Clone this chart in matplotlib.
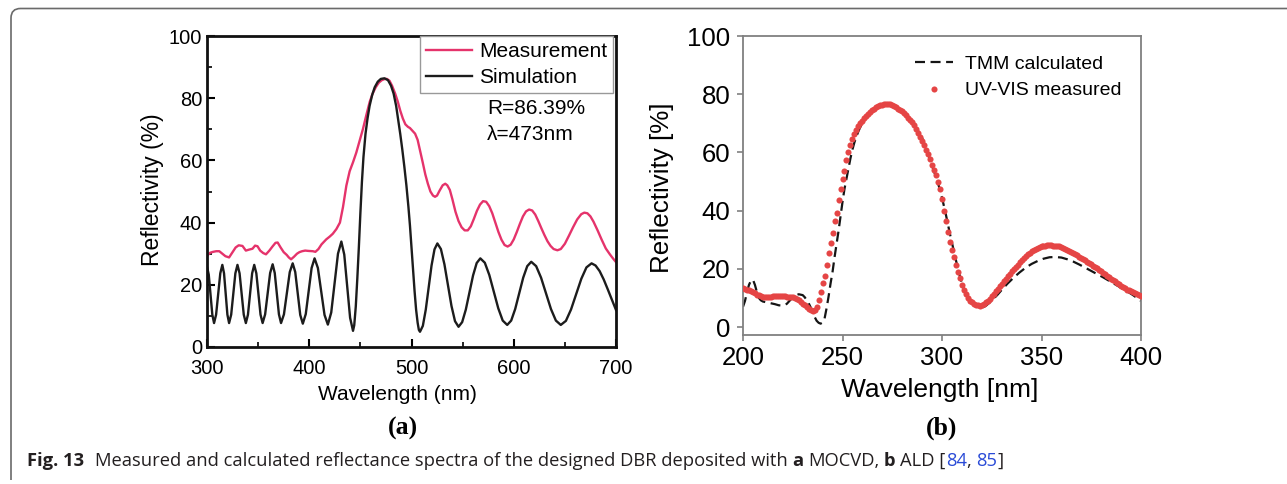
import logging
logging.getLogger('matplotlib.font_manager').setLevel(logging.ERROR)
import numpy as np
import matplotlib
matplotlib.use('Agg')
import matplotlib.pyplot as plt
from matplotlib.path import Path
from matplotlib.patches import PathPatch
from matplotlib.ticker import MultipleLocator

# ---------------- data: panel (a) MOCVD ----------------
a_meas_wl = [300, 303, 306, 309, 312, 315, 318, 321.6, 325, 328, 331, 334.7, 338, 341, 344.5,
             347, 349.4, 352, 355, 357.7, 361, 364, 367, 369.1, 372, 375, 378, 380, 382.2, 385,
             388, 390.4, 393, 396, 399, 403.5, 406, 409, 412, 416.6, 420, 423, 426.5, 430, 433,
             436.3, 439.5, 442.8, 446, 449, 452.6, 456, 459.2, 462, 465, 468, 471, 474, 476,
             478.5, 481, 484, 486.5, 489, 491.5, 494, 496.5, 498.5, 501, 503.5, 506, 508.5, 511,
             513.5, 516, 518.5, 521, 523, 525, 527.5, 530.5, 533, 535, 537.5, 540, 543, 546, 549,
             552, 555, 558, 561, 564, 567, 570, 573, 576, 579, 582, 585, 588, 591, 594, 597, 600,
             603, 606, 609, 612, 615, 618, 621, 624, 627, 630, 633, 636, 639, 642.7, 646, 650,
             654, 658, 662, 666, 669, 672, 675, 678, 682, 686, 690, 694, 697, 700]
a_meas_r = [29.3, 30.3, 30.6, 30.8, 30.8, 30.0, 29.2, 28.8, 30.5, 32.0, 32.7, 32.5, 31.0, 31.3, 31.6,
            32.6, 32.4, 31.0, 30.2, 29.8, 31.0, 32.3, 33.5, 33.6, 32.0, 30.5, 29.6, 28.8, 28.2, 29.0,
            30.0, 30.5, 30.8, 31.0, 30.9, 30.8, 30.6, 31.5, 33.0, 34.6, 35.5, 36.4, 37.9, 40.0, 45.0,
            51.9, 56.5, 59.4, 62.5, 66.0, 70.2, 74.8, 78.9, 81.5, 83.5, 85.0, 85.8, 86.2, 86.2,
            85.6, 84.0, 81.5, 79.0, 76.0, 73.5, 71.6, 70.8, 70.4, 69.5, 68.6, 66.6, 63.0, 59.3,
            55.5, 52.5, 50.0, 48.7, 48.3, 48.7, 50.3, 52.0, 52.5, 52.0, 50.5, 47.5, 43.5, 40.5, 38.5,
            37.5, 37.5, 38.8, 41.2, 43.8, 45.8, 46.9, 46.7, 45.3, 43.0, 40.0, 37.0, 34.5, 32.8, 32.3, 32.9, 34.6,
            37.0, 39.6, 42.0, 43.6, 44.2, 43.9, 42.6, 40.5, 38.2, 36.0, 34.0, 32.5, 31.5, 31.1, 31.5, 33.2,
            35.8, 38.5, 41.0, 42.7, 43.2, 43.0, 42.0, 40.3, 37.5, 34.5, 31.7, 29.8, 28.5, 27.3]

a_sim_wl = [300, 301.7, 303.45, 305.2, 306.9, 308.9, 311, 313, 315, 316.65, 318.3, 319.95, 321.6,
            323.65, 325.7, 327.75, 329.8, 331.85, 333.9, 335.95, 338, 340.05, 342.1, 344.15, 346.2,
            348.25, 350.3, 352.35, 354.4, 356.85, 359.3, 361.75, 364.2, 366.25, 368.3, 370.35, 372.4,
            375.25, 378.1, 380.95, 383.8, 386.3, 388.75, 391.2, 393.7, 396.6, 399.45, 402.3, 405.2,
            408.45, 411.7, 414.95, 418.2, 421.5, 424.8, 428.1, 431.4, 434.25, 437.1, 439.95, 442.8,
            444, 445.5, 447, 448.5, 450, 451.5, 453, 455, 457, 459, 461.5, 464, 467, 470, 473.5, 477,
            480, 482.5, 485, 487, 489, 491, 493, 495, 497, 498.5, 500, 501.5, 503, 504.5, 506, 507.2,
            508.3, 511.1, 513.95, 516.8, 519.6, 522.5, 525.3, 528.75, 532.2, 535.65, 539.1, 542.55,
            546, 549.55, 553.1, 556.65, 560.2, 563.75, 567.3, 571.7, 576.1, 580.45, 584.85, 589.2,
            593.6, 597.5, 601.4, 605.35, 609.25, 613.2, 617.1, 621.9, 626.7, 631.55, 636.4, 641.2,
            646, 651, 656, 661.05, 666.1, 671.1, 676.1, 680, 684, 688, 692, 696, 700]
a_sim_r = [25.8, 23.3, 16.85, 10.4, 7.7, 10.4, 17.05, 23.7, 26.4, 23.7, 17.05, 10.4, 7.7,
           10.4, 17.05, 23.7, 26.4, 23.7, 17.05, 10.4, 7.7, 10.4, 17.05, 23.7, 26.4,
           23.7, 17.05, 10.4, 7.7, 10.5, 17.15, 23.8, 26.6, 23.8, 17.15, 10.5, 7.7,
           10.5, 17.3, 24.1, 26.9, 24.1, 17.2, 10.3, 7.5, 10.6, 18.0, 25.4, 28.5,
           25.4, 17.85, 10.3, 7.2, 11.1, 20.55, 30.0, 33.9, 29.7, 19.55, 9.4, 5.2,
           7.0, 13.0, 22.0, 32.0, 43.0, 53.0, 61.0, 68.5, 73.5, 77.5, 81.0, 83.5, 85.3, 86.2, 86.4, 85.8,
           84.0, 81.5, 77.5, 73.0, 68.5, 63.5, 58.0, 52.0, 45.0, 39.0, 32.0, 25.0, 18.0, 12.0, 7.8, 5.5,
           4.9, 6.8, 12.0, 19.1, 26.2, 31.4, 33.3, 31.5, 26.6, 19.9, 13.2, 8.3,
           6.5, 8.0, 12.0, 17.5, 23.0, 27.0, 28.5, 27.1, 23.15, 17.8, 12.45, 8.5,
           7.1, 8.5, 12.2, 17.25, 22.3, 26.0, 27.4, 26.0, 22.3, 17.25, 12.2, 8.5,
           7.1, 8.4, 12.05, 17.0, 21.95, 25.6, 26.9, 26.2, 24.4, 21.7, 18.5, 15.2, 11.9]

# ---------------- data: panel (b) ALD ----------------
b_tmm_wl = [200, 201, 202, 203, 204, 205, 206, 207, 208, 209, 210, 212, 214, 216, 218, 220, 222, 224,
            226, 228, 230, 231, 232, 233, 234, 235, 236, 237, 238, 239, 240, 241, 242, 243, 244, 245,
            246, 247, 248, 249, 250, 251, 252, 253, 254, 255, 256, 257, 258, 259, 260, 262, 264, 266,
            268, 270, 272, 274, 276, 278, 280, 282, 284, 286, 288, 290, 292, 294, 296, 298, 300, 302,
            304, 306, 308, 310, 312, 314, 316, 318, 320, 322, 324, 326, 328, 330, 333, 336, 339, 342,
            345, 348, 351, 354, 357, 360, 363, 366, 369, 372, 375, 378, 381, 384, 387, 390, 393, 396, 400]
b_tmm_r = [7.0, 9.0, 12.0, 14.5, 16.0, 16.3, 14.5, 12.0, 10.0, 9.2, 8.8, 8.5, 8.2, 7.9, 7.5, 7.4, 8.0, 9.5,
           10.8, 11.3, 11.0, 10.3, 9.3, 8.2, 6.8, 5.0, 3.5, 2.2, 1.5, 1.2, 1.6, 3.0, 6.5, 10.5, 15.0, 19.0,
           24.0, 28.5, 33.0, 38.0, 43.0, 47.5, 51.0, 54.5, 58.0, 61.0, 63.5, 65.5, 67.3, 68.8, 70.0, 72.0, 73.5, 74.6,
           75.4, 75.9, 76.1, 76.0, 75.6, 75.0, 74.0, 72.8, 71.3, 69.5, 67.4, 65.0, 61.5, 57.5, 53.5, 49.5, 44.5, 38.5,
           32.0, 26.0, 20.0, 15.0, 11.3, 9.0, 7.6, 6.8, 6.6, 7.3, 8.5, 9.8, 11.2, 12.8, 15.0, 17.0, 18.8, 20.4,
           21.7, 22.7, 23.5, 24.0, 24.1, 23.9, 23.3, 22.5, 21.5, 20.4, 19.3, 18.2, 17.1, 15.9, 14.7, 13.5, 12.3, 11.0, 9.0]

b_meas_wl = np.arange(200, 401, 1)
b_meas_r = [13.5, 13.2, 12.9, 12.6, 12.3, 12.0, 11.6, 11.2, 10.9, 10.6,
            10.4, 10.3, 10.3, 10.4, 10.5, 10.6, 10.7, 10.8, 10.8, 10.8,
            10.7, 10.6, 10.5, 10.4, 10.3, 10.3, 10.1, 9.8, 9.3, 8.7,
            8.1, 7.5, 6.9, 6.3, 5.8, 5.6, 6.0, 6.8, 9.3, 12.2,
            15.0, 17.5, 21.5, 25.5, 29.0, 32.5, 36.5, 39.2, 43.5, 47.5,
            51.0, 53.7, 57.5, 60.0, 62.5, 64.5, 66.3, 67.8, 69.0, 70.0,
            70.9, 71.7, 72.4, 73.1, 73.8, 74.5, 75.0, 75.5, 75.9, 76.2,
            76.4, 76.5, 76.6, 76.6, 76.5, 76.2, 75.9, 75.5, 75.0, 74.6,
            74.2, 73.5, 72.8, 72.0, 71.2, 70.4, 69.3, 68.1, 66.8, 65.4,
            63.8, 62.4, 60.8, 59.3, 57.8, 55.8, 54.0, 52.2, 49.8, 47.4,
            44.0, 40.0, 36.5, 32.8, 29.1, 26.5, 24.0, 21.2, 19.0, 16.8,
            14.5, 12.8, 11.3, 10.0, 9.1, 8.5, 8.0, 7.7, 7.5, 7.4,
            7.6, 8.1, 8.6, 9.1, 9.7, 10.6, 11.4, 12.3, 13.2, 14.0,
            14.8, 15.8, 16.7, 17.6, 18.4, 19.2, 20.0, 20.7, 21.5, 22.3,
            23.0, 23.7, 24.4, 25.0, 25.6, 26.1, 26.6, 27.0, 27.3, 27.6,
            27.8, 27.9, 28.0, 28.1, 28.1, 28.1, 28.0, 28.0, 27.9, 27.7,
            27.5, 27.2, 26.9, 26.6, 26.3, 25.9, 25.5, 25.1, 24.7, 24.2,
            23.8, 23.4, 22.9, 22.5, 22.1, 21.6, 21.1, 20.7, 20.2, 19.7,
            19.2, 18.7, 18.1, 17.6, 17.2, 16.7, 16.2, 15.7, 15.2, 14.7,
            14.2, 13.7, 13.3, 12.9, 12.6, 12.3, 12.0, 11.7, 11.4, 11.1,
            10.8]

a_xticks = [300, 400, 500, 600, 700]
a_yticks = [0, 20, 40, 60, 80, 100]
b_xticks = [200, 250, 300, 350, 400]
b_yticks = [0, 20, 40, 60, 80, 100]

caption_parts = [("Fig. 13", "bold", "#231f20"),
                 ("Measured and calculated reflectance spectra of the designed DBR deposited with", "normal", "#231f20"),
                 ("a", "bold", "#231f20"),
                 ("MOCVD,", "normal", "#231f20"),
                 ("b", "bold", "#231f20"),
                 ("ALD [", "normal", "#231f20"),
                 ("84", "normal", "#2a4bd7"),
                 (",", "normal", "#231f20"),
                 ("85", "normal", "#2a4bd7"),
                 ("]", "normal", "#231f20")]

# ---------------- figure ----------------
W, H = 1287, 484
plt.rcParams['font.family'] = ['Liberation Sans', 'DejaVu Sans']
fig = plt.figure(figsize=(W / 100, H / 100), dpi=100)


def px_axes(x0, y0, x1, y1):
    return fig.add_axes([x0 / W, 1 - y1 / H, (x1 - x0) / W, (y1 - y0) / H])


def ptext(x, y, s, **kw):
    return fig.text(x / W, 1 - y / H, s, **kw)


# ---- panel (a)
red_a = '#e5336b'
axa = px_axes(207, 36, 616, 347)
axa.plot(a_meas_wl, a_meas_r, color=red_a, lw=1.7, label='Measurement')
axa.plot(a_sim_wl, a_sim_r, color='#1c1c1c', lw=1.7, label='Simulation')
axa.set_xlim(300, 700)
axa.set_ylim(0, 100)
axa.set_xticks(a_xticks)
axa.set_yticks(a_yticks)
axa.xaxis.set_minor_locator(MultipleLocator(50))
axa.yaxis.set_minor_locator(MultipleLocator(10))
axa.tick_params(which='major', direction='in', length=6, width=1.5, labelsize=14.5, colors='black')
axa.tick_params(which='minor', direction='in', length=3.5, width=1.2)
axa.tick_params(axis='x', pad=8.5)
axa.tick_params(axis='y', pad=3.5)
for lab in axa.get_yticklabels():
    lab.set_verticalalignment('center_baseline')
for sp in axa.spines.values():
    sp.set_linewidth(2.0)
    sp.set_color('#111111')
axa.set_xlabel('Wavelength (nm)', fontsize=15)
axa.set_ylabel('Reflectivity (%)', fontsize=16.5)
axa.xaxis.set_label_coords(0.465, -0.122)
axa.yaxis.set_label_coords(-0.105, 0.505)
leg = axa.legend(loc='upper right', bbox_to_anchor=(0.993, 1.0), borderaxespad=0, fontsize=15,
                 frameon=True, fancybox=False, edgecolor='#999999', framealpha=1,
                 borderpad=0.3, handlelength=2.2, handletextpad=0.33, labelspacing=0.33)
leg.get_frame().set_linewidth(1.0)
ptext(487, 108, 'R=86.39%', fontsize=15, va='center', ha='left')
ptext(487, 134, 'λ=473nm', fontsize=15, va='center', ha='left')

# ---- panel (b)
gray = '#808080'
axb = px_axes(743, 36, 1141, 335)
axb.plot(b_tmm_wl, b_tmm_r, color='#151515', lw=1.6, ls=(0, (4.5, 2.5)), label='TMM calculated')
axb.plot(b_meas_wl, b_meas_r, 'o', color='#e54545', ms=4.4, mec='none', label='UV-VIS measured', zorder=3)
axb.set_xlim(200, 400)
axb.set_ylim(-2.7, 100)
axb.set_xticks(b_xticks)
axb.set_yticks(b_yticks)
axb.tick_params(direction='out', length=4, width=1.2, color=gray, labelsize=18.5, labelcolor='black')
axb.tick_params(axis='x', pad=4)
axb.tick_params(axis='y', pad=5)
for sp in axb.spines.values():
    sp.set_linewidth(1.3)
    sp.set_color(gray)
axb.set_xlabel('Wavelength [nm]', fontsize=19)
axb.set_ylabel('Reflectivity [%]', fontsize=18.7)
axb.xaxis.set_label_coords(0.495, -0.145)
axb.yaxis.set_label_coords(-0.173, 0.492)
axb.legend(loc='upper left', bbox_to_anchor=(0.432, 0.935), borderaxespad=0, borderpad=0,
           fontsize=14, frameon=False, handlelength=1.95, handletextpad=0.6, labelspacing=0.45,
           numpoints=1)

# ---- sub-figure labels
ptext(403, 428, '(a)', fontsize=18.5, fontweight='bold', family=['Liberation Serif', 'DejaVu Serif'],
      ha='center', va='center')
ptext(942, 428, '(b)', fontsize=18.5, fontweight='bold', family=['Liberation Serif', 'DejaVu Serif'],
      ha='center', va='center')

# ---- frame (top and left edges with rounded corner)
verts = [(11, 480), (11, 18), (11, 8.5), (20.5, 8.5), (1295, 8.5)]
codes = [Path.MOVETO, Path.LINETO, Path.CURVE3, Path.CURVE3, Path.LINETO]
fverts = [(x / W, 1 - y / H) for x, y in verts]
frame = PathPatch(Path(fverts, codes), transform=fig.transFigure, fill=False,
                  edgecolor='#6a6a6a', lw=1.2, clip_on=False)
fig.add_artist(frame)

# ---- caption
cap_family = ['Liberation Sans Narrow', 'Open Sans', 'DejaVu Sans']
renderer = fig.canvas.get_renderer()


def text_w(s, weight, size):
    t = fig.text(0, 0, s, fontsize=size, fontweight=weight, family=cap_family)
    w = t.get_window_extent(renderer).width
    t.remove()
    return w


def layout_width(size):
    sp = text_w('a a', 'normal', size) - text_w('aa', 'normal', size)
    total = 0
    gaps = []
    for i, (s, wt, c) in enumerate(caption_parts):
        total += text_w(s, wt, size)
        if i < len(caption_parts) - 1:
            nxt = caption_parts[i + 1][0]
            if i == 0:
                g = sp * 2.2
            elif s.endswith('[') or nxt in (',', ']'):
                g = 0
            else:
                g = sp
            gaps.append(g)
            total += g
    return total, gaps


target_w = 978
size = 10.0
tw, _ = layout_width(size)
size = size * target_w / tw
tw, gaps = layout_width(size)
x = 27
for i, (s, wt, c) in enumerate(caption_parts):
    t = ptext(x, 466, s, fontsize=size, fontweight=wt, color=c, family=cap_family,
              ha='left', va='baseline')
    x += t.get_window_extent(renderer).width
    if i < len(gaps):
        x += gaps[i]

fig.savefig('out.png', dpi=100)
